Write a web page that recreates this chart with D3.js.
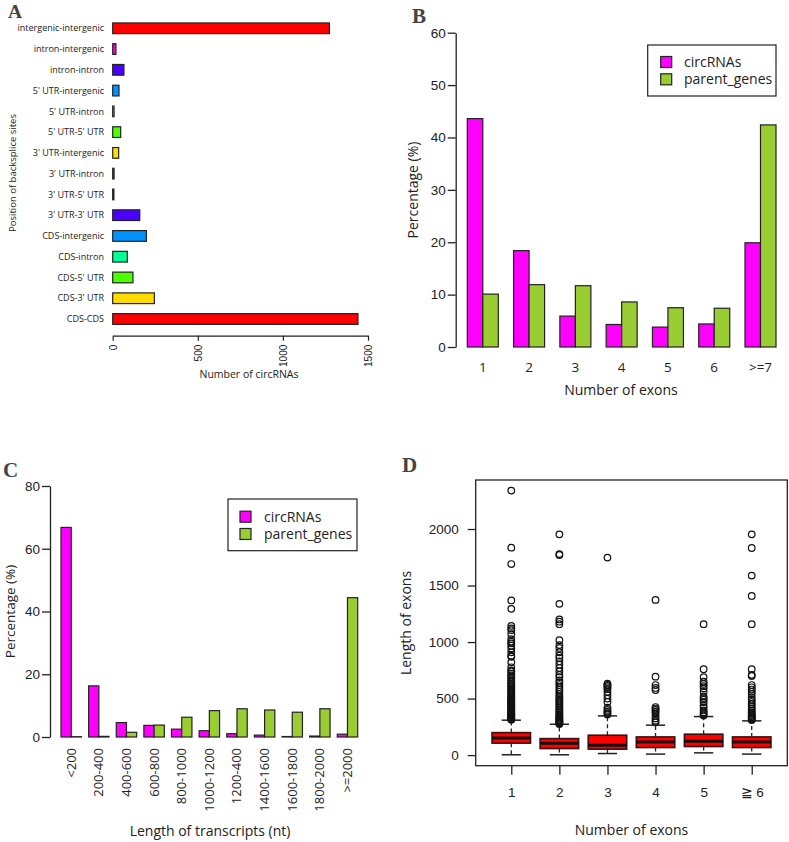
<!DOCTYPE html>
<html><head><meta charset="utf-8">
<script src="https://cdn.jsdelivr.net/npm/d3@7"></script>
<style>
body{margin:0;background:#fff;}
svg{display:block;font-family:"Open Sans",sans-serif;}
</style></head>
<body><svg id="c" width="789" height="842"></svg>
<script>
// ---------- Panel A data ----------
const aCategories = ["intergenic-intergenic","intron-intergenic","intron-intron","5' UTR-intergenic","5' UTR-intron","5' UTR-5' UTR","3' UTR-intergenic","3' UTR-intron","3' UTR-5' UTR","3' UTR-3' UTR","CDS-intergenic","CDS-intron","CDS-5' UTR","CDS-3' UTR","CDS-CDS"];
const aValues = [1273, 19, 66, 37, 8, 47, 35, 8, 7, 159, 198, 86, 119, 245, 1441];
const aColors = ["#FF0000","#FF00DB","#4900FF","#0092FF","#00FF92","#49FF00","#FFDB00","#FF0000","#FF00DB","#4900FF","#0092FF","#00FF92","#49FF00","#FFDB00","#FF0000"];
const aTicks = [0, 500, 1000, 1500];

// ---------- Panel B data ----------
const bCategories = ["1","2","3","4","5","6",">=7"];
const bCirc = [43.6, 18.4, 5.9, 4.3, 3.8, 4.4, 19.9];
const bParent = [10.1, 11.9, 11.7, 8.6, 7.5, 7.4, 42.4];
const bTicks = [0, 10, 20, 30, 40, 50, 60];

// ---------- Panel C data ----------
const cCategories = ["<200","200-400","400-600","600-800","800-1000","1000-1200","1200-400","1400-1600","1600-1800","1800-2000",">=2000"];
const cCirc = [66.8, 16.3, 4.6, 3.7, 2.5, 2.0, 1.05, 0.6, 0.15, 0.3, 0.9];
const cParent = [0.1, 0.2, 1.5, 3.8, 6.3, 8.4, 9.0, 8.6, 7.9, 9.0, 44.4];
const cTicks = [0, 20, 40, 60, 80];

// ---------- Panel D data ----------
const dCategories = ["1","2","3","4","5","\u2267 6"];
const dLow = [3, 3, 14, 9, 20, 9];
const dQ1 = [106, 58, 53, 67, 76, 67];
const dMed = [152, 105, 88, 115, 122, 115];
const dQ3 = [199, 146, 176, 161, 185, 161];
const dHigh = [309, 273, 347, 265, 341, 303];
const dOut1 = [312,318,325,330,338,345,352,360,368,375,383,390,400,410,418,425,435,445,455,462,470,480,490,500,510,520,532,545,555,568,580,592,605,618,630,645,660,675,690,705,720,740,750,777,821,870,880,909,944,968,988,1003,1026,1070,1105,1120,1143,1294,1368,1690,1835,2340];
const dOut2 = [275,282,290,298,305,312,320,330,340,350,362,375,388,400,415,430,445,460,475,490,505,520,540,560,580,600,620,640,660,690,710,740,770,800,830,860,880,910,948,973,1017,1158,1180,1200,1338,1770,1778,1953];
const dOut3 = [360,372,385,400,420,470,500,530,560,585,600,612,622,632,1747];
const dOut4 = [290,305,325,345,370,385,400,412,425,576,594,620,694,1373];
const dOut5 = [350,362,378,395,420,440,470,490,505,520,560,590,610,630,650,690,760,1158];
const dOut6 = [310,318,326,336,345,355,368,380,395,410,430,450,470,490,510,540,560,580,600,620,700,710,760,1158,1408,1588,1832,1953];
const dOutliers = [dOut1, dOut2, dOut3, dOut4, dOut5, dOut6];
const dTicks = [0, 500, 1000, 1500, 2000];

const svg = d3.select("#c");
const ink = "#222";
const magenta = "#FF00FF", green = "#9ACD32";

function letter(t, x, y, fs){
  svg.append("text").attr("x", x).attr("y", y).text(t)
    .attr("font-family", "'Liberation Serif',serif").attr("font-weight", "bold")
    .attr("font-size", fs || 21).attr("fill", "#444");
}

// ================= Panel A =================
(function(){
  const g = svg.append("g");
  const x = d3.scaleLinear().domain([0, 1500]).range([112.7, 368]);
  const y = d3.scalePoint().domain(aCategories).range([28.3, 319]);
  const bh = 10.7;
  g.selectAll("rect").data(aCategories).join("rect")
    .attr("x", x(0)).attr("y", d => y(d) - bh/2)
    .attr("width", (d,i) => Math.max(0, x(aValues[i]) - x(0)))
    .attr("height", bh)
    .attr("fill", (d,i) => aColors[i]).attr("stroke", ink).attr("stroke-width", 1.2);
  g.selectAll("text.cat").data(aCategories).join("text").attr("class","cat")
    .attr("x", 104).attr("y", d => y(d)).attr("dy", "0.35em")
    .attr("text-anchor", "end").attr("font-size", 9).attr("fill", ink).text(d => d);
  const ax = g.append("g").attr("transform", "translate(0,335.7)")
    .call(d3.axisBottom(x).tickValues(aTicks).tickSize(5).tickSizeOuter(0).tickFormat(d3.format("d")));
  ax.select(".domain").attr("stroke", ink).attr("stroke-width", 1.2);
  ax.selectAll(".tick line").attr("stroke", ink).attr("stroke-width", 1.2);
  ax.selectAll(".tick text").attr("font-size", 10).attr("fill", ink)
    .attr("transform", "rotate(-90)").attr("text-anchor", "end")
    .attr("x", -9).attr("y", 0).attr("dy", "0.35em");
  g.append("text").attr("x", 249).attr("y", 378).attr("text-anchor", "middle")
    .attr("font-size", 10.5).attr("fill", ink).text("Number of circRNAs");
  g.append("text").attr("transform", "translate(15.5,173) rotate(-90)").attr("text-anchor", "middle")
    .attr("font-size", 9.5).attr("fill", ink).text("Position of backsplice sites");
  letter("A", 8, 18, 19.5);
})();

// grouped bar helper
function grouped(cfg){
  const g = svg.append("g");
  const x = d3.scaleBand().domain(cfg.cats).range(cfg.xr).paddingInner(cfg.pad).paddingOuter(0);
  const y = d3.scaleLinear().domain(cfg.yd).range(cfg.yr);
  const bw = x.bandwidth()/2;
  const series = [{v: cfg.circ, c: magenta, o: 0}, {v: cfg.parent, c: green, o: 1}];
  series.forEach(s => {
    g.append("g").selectAll("rect").data(cfg.cats).join("rect")
      .attr("x", d => x(d) + s.o*bw).attr("width", bw)
      .attr("y", (d,i) => y(s.v[i])).attr("height", (d,i) => y(0) - y(s.v[i]))
      .attr("fill", s.c).attr("stroke", ink).attr("stroke-width", 1.2);
  });
  const ay = g.append("g").attr("transform", `translate(${cfg.axisX},0)`)
    .call(d3.axisLeft(y).tickValues(cfg.ticks).tickSize(8).tickSizeOuter(0));
  ay.select(".domain").attr("stroke", ink).attr("stroke-width", 1.3);
  ay.selectAll(".tick line").attr("stroke", ink).attr("stroke-width", 1.3);
  ay.selectAll(".tick text").attr("font-size", 13.5).attr("fill", ink).attr("x", -10);
  return {g, x, y};
}
function legend(x0, y0, w, h, sx, ty1, ty2, tx){
  const g = svg.append("g");
  g.append("rect").attr("x", x0).attr("y", y0).attr("width", w).attr("height", h)
    .attr("fill", "#fff").attr("stroke", ink).attr("stroke-width", 1.2);
  [[magenta, "circRNAs", ty1],[green, "parent_genes", ty2]].forEach(r => {
    g.append("rect").attr("x", sx).attr("y", r[2]-5.5).attr("width", 11).attr("height", 11)
      .attr("fill", r[0]).attr("stroke", ink).attr("stroke-width", 1.2);
    g.append("text").attr("x", tx).attr("y", r[2]).attr("dy", "0.35em")
      .attr("font-size", 14).attr("fill", ink).text(r[1]);
  });
}

// ================= Panel B =================
(function(){
  const r = grouped({cats: bCategories, circ: bCirc, parent: bParent, xr: [467.3, 776], pad: 0.33,
    yd: [0, 60], yr: [347, 32.7], ticks: bTicks, axisX: 455.7});
  r.g.selectAll("text.xl").data(bCategories).join("text").attr("class","xl")
    .attr("x", d => r.x(d) + r.x.bandwidth()/2).attr("y", 371.5)
    .attr("text-anchor", "middle").attr("font-size", 13.5).attr("fill", ink).text(d => d);
  r.g.append("text").attr("x", 621).attr("y", 395).attr("text-anchor", "middle")
    .attr("font-size", 14).attr("fill", ink).text("Number of exons");
  r.g.append("text").attr("transform", "translate(418,190) rotate(-90)").attr("text-anchor", "middle")
    .attr("font-size", 14).attr("fill", ink).text("Percentage (%)");
  legend(647.7, 45, 128.3, 51, 660.7, 62, 79.3, 684);
  letter("B", 412, 22.5);
})();

// ================= Panel C =================
(function(){
  const r = grouped({cats: cCategories, circ: cCirc, parent: cParent, xr: [61, 357.7], pad: 0.26,
    yd: [0, 80], yr: [737, 486], ticks: cTicks, axisX: 50});
  r.g.selectAll("text.xl").data(cCategories).join("text").attr("class","xl")
    .attr("transform", d => `translate(${r.x(d) + r.x.bandwidth()/2 + 4.5},748) rotate(-90)`)
    .attr("text-anchor", "end").attr("font-size", 13).attr("fill", ink).text(d => d);
  r.g.append("text").attr("x", 210).attr("y", 836).attr("text-anchor", "middle")
    .attr("font-size", 14).attr("fill", ink).text("Length of transcripts (nt)");
  r.g.append("text").attr("transform", "translate(15,611.5) rotate(-90)").attr("text-anchor", "middle")
    .attr("font-size", 13.5).attr("fill", ink).text("Percentage (%)");
  legend(228, 499, 129, 51.7, 240, 516.7, 534, 264);
  letter("C", 3, 477);
})();

// ================= Panel D =================
(function(){
  const g = svg.append("g");
  const x = d3.scaleLinear().domain([0.26, 6.74]).range([475.7, 787.3]);
  const y = d3.scaleLinear().domain([-93.6, 2433.6]).range([765.7, 480]);
  const bw = x(1.4) - x(1), cw = x(1.2) - x(1);
  dCategories.forEach((c, i) => {
    const cx = x(i+1);
    const gg = g.append("g");
    gg.append("line").attr("x1", cx).attr("x2", cx).attr("y1", y(dQ3[i])).attr("y2", y(dHigh[i]))
      .attr("stroke", ink).attr("stroke-width", 1.3).attr("stroke-dasharray", "4,3");
    gg.append("line").attr("x1", cx).attr("x2", cx).attr("y1", y(dQ1[i])).attr("y2", y(dLow[i]))
      .attr("stroke", ink).attr("stroke-width", 1.3).attr("stroke-dasharray", "4,3");
    [dHigh[i], dLow[i]].forEach(v => gg.append("line").attr("x1", cx - cw).attr("x2", cx + cw)
      .attr("y1", y(v)).attr("y2", y(v)).attr("stroke", ink).attr("stroke-width", 1.5));
    gg.append("rect").attr("x", cx - bw).attr("width", 2*bw)
      .attr("y", y(dQ3[i])).attr("height", y(dQ1[i]) - y(dQ3[i]))
      .attr("fill", "#FF0000").attr("stroke", "#3a1010").attr("stroke-width", 1.6);
    gg.append("line").attr("x1", cx - bw).attr("x2", cx + bw).attr("y1", y(dMed[i])).attr("y2", y(dMed[i]))
      .attr("stroke", "#111").attr("stroke-width", 3);
    gg.selectAll("circle").data(dOutliers[i]).join("circle")
      .attr("cx", cx).attr("cy", v => y(v)).attr("r", 3.3)
      .attr("fill", "none").attr("stroke", "#111").attr("stroke-width", 1.2);
  });
  g.append("rect").attr("x", 475.7).attr("y", 480).attr("width", 787.3 - 475.7).attr("height", 765.7 - 480)
    .attr("fill", "none").attr("stroke", ink).attr("stroke-width", 1.3);
  const ay = g.append("g").attr("transform", "translate(475.7,0)")
    .call(d3.axisLeft(y).tickValues(dTicks).tickSize(8).tickSizeOuter(0).tickFormat(d3.format("d")));
  ay.select(".domain").remove();
  ay.selectAll(".tick line").attr("stroke", ink).attr("stroke-width", 1.3);
  ay.selectAll(".tick text").attr("font-size", 13.5).attr("fill", ink).attr("x", -17);
  const ax = g.append("g").attr("transform", "translate(0,765.7)")
    .call(d3.axisBottom(x).tickValues([1,2,3,4,5,6]).tickSize(9).tickFormat((d,i) => dCategories[i]));
  ax.select(".domain").remove();
  ax.selectAll(".tick line").attr("stroke", ink).attr("stroke-width", 1.3);
  ax.selectAll(".tick text").attr("font-size", 13.5).attr("fill", ink).attr("y", 22);
  g.append("text").attr("x", 631.5).attr("y", 835).attr("text-anchor", "middle")
    .attr("font-size", 14).attr("fill", ink).text("Number of exons");
  g.append("text").attr("transform", "translate(411,623) rotate(-90)").attr("text-anchor", "middle")
    .attr("font-size", 14).attr("fill", ink).text("Length of exons");
  letter("D", 402, 472);
})();
</script>
</body></html>
